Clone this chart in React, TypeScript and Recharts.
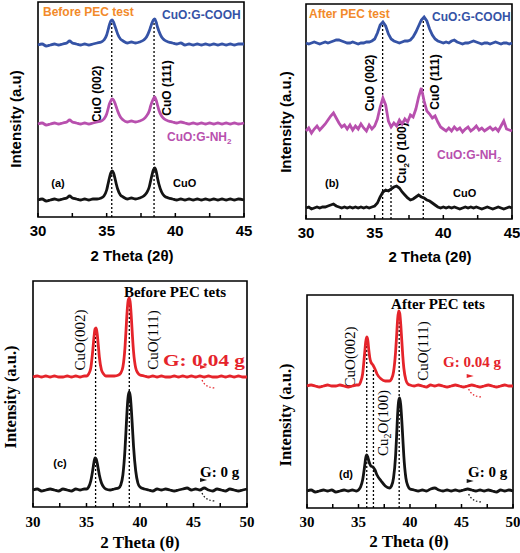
import React from 'react';
import { LineChart, Line, XAxis, YAxis, ReferenceLine, ReferenceArea, ReferenceDot } from 'recharts';

// ---- panels (a) and (b): 2θ 30–45 ----
const thetaA = [30.0, 30.3, 30.6, 30.9, 31.2, 31.5, 31.8, 32.1, 32.3, 32.5, 32.8, 33.1, 33.4, 33.7, 34.0, 34.3, 34.6, 34.8, 35.0, 35.1, 35.2, 35.3, 35.4, 35.5, 35.6, 35.7, 35.8, 36.0, 36.2, 36.5, 36.8, 37.1, 37.4, 37.7, 37.9, 38.1, 38.2, 38.3, 38.4, 38.5, 38.6, 38.7, 38.8, 39.0, 39.2, 39.5, 39.8, 40.1, 40.4, 40.7, 41.0, 41.3, 41.6, 41.9, 42.2, 42.5, 42.8, 43.1, 43.4, 43.7, 44.0, 44.3, 44.6, 45.0];
const aCooh = [172, 173, 171, 172, 173, 172, 173, 174, 176, 174, 173, 172, 173, 172, 173, 174, 175, 177, 182, 187, 192, 196, 197, 195, 191, 187, 183, 178, 176, 174, 175, 174, 175, 177, 180, 186, 190, 194, 197, 198, 195, 190, 186, 180, 177, 175, 174, 173, 174, 172, 173, 172, 173, 172, 173, 172, 173, 172, 173, 172, 173, 172, 173, 173];
const aNh2 = [93, 94, 92, 93, 94, 93, 94, 95, 97, 95, 94, 93, 94, 93, 94, 95, 96, 98, 103, 108, 113, 116, 118, 117, 114, 110, 106, 100, 97, 95, 96, 95, 96, 98, 101, 106, 111, 115, 118, 120, 117, 112, 107, 101, 98, 96, 95, 94, 95, 94, 93, 94, 93, 94, 93, 94, 93, 94, 93, 94, 93, 94, 93, 94];
const aCuo = [17, 18, 16, 17, 18, 17, 18, 19, 21, 19, 18, 17, 18, 17, 18, 18, 19, 21, 27, 33, 39, 44, 46, 44, 39, 33, 28, 22, 20, 18, 19, 18, 19, 21, 24, 30, 36, 42, 47, 49, 46, 39, 33, 25, 21, 19, 18, 17, 18, 17, 18, 17, 18, 17, 18, 17, 18, 17, 18, 17, 18, 17, 18, 17];

const thetaB = [30.0, 30.2, 30.4, 30.6, 30.8, 31.0, 31.2, 31.4, 31.6, 31.8, 32.0, 32.2, 32.4, 32.6, 32.8, 33.0, 33.2, 33.4, 33.6, 33.8, 34.0, 34.2, 34.4, 34.6, 34.8, 35.0, 35.2, 35.4, 35.6, 35.8, 36.0, 36.2, 36.4, 36.6, 36.8, 37.0, 37.2, 37.4, 37.6, 37.8, 38.0, 38.2, 38.4, 38.6, 38.8, 39.0, 39.2, 39.4, 39.6, 39.8, 40.0, 40.2, 40.4, 40.6, 40.8, 41.0, 41.2, 41.4, 41.6, 41.8, 42.0, 42.2, 42.4, 42.6, 42.8, 43.0, 43.2, 43.4, 43.6, 43.8, 44.0, 44.2, 44.4, 44.6, 44.8, 45.0];
const bCooh = [176, 175, 176, 177, 176, 175, 176, 177, 176, 177, 178, 179, 179, 178, 177, 176, 176, 177, 176, 175, 176, 176, 177, 177, 178, 180, 186, 194, 197, 193, 185, 180, 178, 177, 176, 177, 178, 178, 179, 182, 187, 193, 199, 202, 198, 190, 184, 180, 178, 177, 176, 177, 176, 178, 179, 177, 176, 175, 176, 176, 177, 178, 177, 176, 175, 176, 176, 175, 176, 177, 176, 175, 176, 176, 175, 176];
const bNh2 = [88, 91, 86, 90, 93, 89, 92, 95, 99, 103, 106, 101, 96, 92, 94, 90, 94, 89, 93, 90, 95, 91, 88, 94, 90, 93, 100, 112, 121, 114, 98, 92, 96, 93, 99, 95, 100, 97, 104, 102, 110, 122, 131, 118, 108, 105, 101, 103, 97, 92, 90, 88, 91, 88, 92, 89, 91, 87, 90, 92, 88, 90, 93, 89, 91, 88, 90, 92, 89, 91, 88, 93, 98, 90, 89, 88];
const bCuo = [11, 12, 10, 11, 12, 11, 12, 12, 13, 14, 15, 13, 12, 11, 12, 11, 12, 11, 12, 11, 12, 11, 12, 11, 12, 13, 16, 22, 27, 29, 28, 30, 32, 33, 31, 27, 24, 21, 19, 20, 22, 24, 22, 21, 19, 18, 16, 14, 12, 11, 12, 11, 12, 11, 12, 11, 10, 11, 12, 11, 12, 11, 12, 11, 10, 11, 12, 11, 10, 11, 12, 11, 10, 11, 12, 11];

// ---- panels (c) and (d): 2θ 30–50 ----
const thetaC = [30.0, 30.4, 30.8, 31.2, 31.6, 32.0, 32.4, 32.8, 33.2, 33.6, 34.0, 34.4, 34.8, 35.0, 35.2, 35.4, 35.6, 35.7, 35.8, 35.9, 36.0, 36.1, 36.2, 36.4, 36.6, 36.8, 37.2, 37.6, 38.0, 38.2, 38.4, 38.6, 38.7, 38.8, 38.9, 39.0, 39.1, 39.2, 39.3, 39.4, 39.6, 39.8, 40.0, 40.4, 40.8, 41.2, 41.6, 42.0, 42.4, 42.8, 43.2, 43.6, 44.0, 44.4, 44.8, 45.2, 45.6, 46.0, 46.4, 46.8, 47.2, 47.6, 48.0, 48.4, 48.8, 49.2, 49.6, 50.0];
const cG004 = [130, 131, 130, 131, 130, 131, 130, 130, 131, 130, 131, 130, 131, 131, 133, 139, 158, 170, 178, 179, 173, 162, 150, 137, 133, 131, 131, 131, 132, 134, 140, 160, 178, 196, 207, 209, 203, 188, 170, 155, 139, 134, 132, 131, 130, 131, 130, 131, 130, 130, 131, 130, 131, 130, 131, 130, 131, 130, 131, 130, 130, 131, 130, 131, 130, 131, 130, 130];
const cG0 = [17, 18, 16, 17, 18, 17, 16, 18, 17, 16, 18, 17, 18, 18, 20, 26, 38, 45, 49, 48, 44, 38, 32, 24, 20, 18, 17, 18, 19, 22, 32, 58, 78, 98, 111, 115, 110, 96, 78, 60, 36, 24, 20, 18, 17, 16, 18, 17, 18, 17, 16, 17, 18, 19, 17, 18, 17, 19, 17, 16, 18, 17, 16, 18, 17, 16, 17, 18];
const dG004 = [122, 123, 122, 121, 122, 123, 122, 122, 123, 122, 121, 122, 123, 123, 126, 134, 155, 166, 171, 168, 158, 150, 146, 143, 139, 134, 129, 127, 127, 129, 136, 156, 172, 189, 197, 195, 184, 168, 152, 140, 128, 124, 123, 122, 123, 122, 121, 123, 122, 123, 122, 121, 122, 123, 122, 121, 122, 123, 122, 121, 122, 123, 122, 121, 122, 123, 122, 122];
const dG0 = [17, 18, 16, 17, 18, 17, 18, 16, 17, 18, 17, 18, 17, 18, 21, 28, 42, 50, 53, 51, 47, 44, 42, 41, 38, 33, 27, 22, 20, 22, 30, 52, 72, 94, 107, 110, 103, 88, 70, 52, 30, 22, 19, 18, 17, 18, 17, 19, 20, 18, 17, 18, 17, 18, 17, 18, 19, 18, 17, 18, 17, 18, 17, 16, 18, 17, 18, 17];

const ticksAB = [30, 32.5, 35, 37.5, 40, 42.5, 45];
const ticksCD = [30, 32.5, 35, 37.5, 40, 42.5, 45, 47.5, 50];

const SANS = '"Liberation Sans", Arial, sans-serif';
const SERIF = '"Liberation Serif", "Times New Roman", serif';
const BLUE = '#3553a6';
const MAGENTA = '#b850ae';
const ORANGE = '#f28a2a';
const RED = '#e5242b';
const BLACK = '#141414';

const dataA = thetaA.map((t, i) => ({ t, cooh: aCooh[i], nh2: aNh2[i], cuo: aCuo[i] }));
const dataB = thetaB.map((t, i) => ({ t, cooh: bCooh[i], nh2: bNh2[i], cuo: bCuo[i] }));
const dataC = thetaC.map((t, i) => ({ t, g004: cG004[i], g0: cG0[i] }));
const dataD = thetaC.map((t, i) => ({ t, g004: dG004[i], g0: dG0[i] }));

const majorOnly = (v: number) => (v % 5 === 0 ? String(v) : '');

function Txt({ x, y, children, size = 12, color = '#000', weight = 'bold', anchor = 'start', rotate = false, family = SANS, len }: any) {
  return (
    <text
      x={x}
      y={y}
      fill={color}
      fontSize={size}
      fontWeight={weight}
      fontFamily={family}
      textAnchor={anchor}
      dominantBaseline="central"
      transform={rotate ? `rotate(-90 ${x} ${y})` : undefined}
      textLength={len}
      lengthAdjust={len ? 'spacingAndGlyphs' : undefined}
    >
      {children}
    </text>
  );
}

// small arrowhead + dotted arc next to each trace in (c)/(d)
function breakMark(color: string) {
  return (p: any) => (
    <g>
      <polygon points={`${p.cx - 2},${p.cy - 12} ${p.cx + 5},${p.cy - 10} ${p.cx - 2},${p.cy - 8}`} fill={color} />
      <path d={`M${p.cx},${p.cy + 3} Q${p.cx + 3},${p.cy + 11} ${p.cx + 14},${p.cy + 11}`} fill="none" stroke={color} strokeWidth={1.3} strokeDasharray="1.5 2" />
    </g>
  );
}

const dotted = { stroke: '#000', strokeWidth: 1.3, strokeDasharray: '2 2' };
const LW = 2.8;

function PanelA() {
  return (
    <LineChart width={260} height={280} data={dataA} margin={{ top: 2, left: 38, right: 16, bottom: 33 }}>
      <XAxis dataKey="t" type="number" domain={[30, 45]} ticks={ticksAB} interval={0} tickFormatter={majorOnly}
        tickSize={-4} tickMargin={12} axisLine={false} height={30}
        tickLine={{ stroke: '#000', strokeWidth: 1.5 }}
        tick={{ fill: '#000', fontSize: 15, fontWeight: 'bold', fontFamily: SANS }} />
      <YAxis hide type="number" domain={[0, 215]} />
      <ReferenceLine segment={[{ x: 35.37, y: 0 }, { x: 35.37, y: 197 }]} {...dotted} />
      <ReferenceLine segment={[{ x: 38.45, y: 0 }, { x: 38.45, y: 198 }]} {...dotted} />
      <Line type="monotone" dataKey="cooh" stroke={BLUE} strokeWidth={LW} dot={false} isAnimationActive={false} />
      <Line type="monotone" dataKey="nh2" stroke={MAGENTA} strokeWidth={LW} dot={false} isAnimationActive={false} />
      <Line type="monotone" dataKey="cuo" stroke={BLACK} strokeWidth={LW} dot={false} isAnimationActive={false} />
      <ReferenceArea x1={30} x2={45} y1={0} y2={215} fill="none" fillOpacity={0} stroke="#000" strokeWidth={1.6} ifOverflow="visible" />
      <Txt x={43} y={12} color={ORANGE}>Before PEC test</Txt>
      <Txt x={162} y={15} color={BLUE}>CuO:G-COOH</Txt>
      <Txt x={97} y={94} anchor="middle" rotate>CuO (002)</Txt>
      <Txt x={167} y={88} anchor="middle" rotate>CuO (111)</Txt>
      <Txt x={167} y={137} color={MAGENTA}>CuO:G-NH<tspan dy={4} fontSize={8}>2</tspan></Txt>
      <Txt x={58} y={183} anchor="middle" size={11}>(a)</Txt>
      <Txt x={173} y={183} size={11}>CuO</Txt>
      <Txt x={15} y={119} anchor="middle" rotate size={15}>Intensity (a.u)</Txt>
      <Txt x={132} y={255} anchor="middle" size={15}>2 Theta (2θ)</Txt>
    </LineChart>
  );
}

function PanelB() {
  return (
    <LineChart width={260} height={280} data={dataB} margin={{ top: 4, left: 46, right: 8, bottom: 31 }}>
      <XAxis dataKey="t" type="number" domain={[30, 45]} ticks={ticksAB} interval={0} tickFormatter={majorOnly}
        tickSize={-4} tickMargin={12} axisLine={false} height={30}
        tickLine={{ stroke: '#000', strokeWidth: 1.5 }}
        tick={{ fill: '#000', fontSize: 15, fontWeight: 'bold', fontFamily: SANS }} />
      <YAxis hide type="number" domain={[0, 215]} />
      <ReferenceLine segment={[{ x: 35.58, y: 0 }, { x: 35.58, y: 197 }]} {...dotted} />
      <ReferenceLine segment={[{ x: 36.19, y: 0 }, { x: 36.19, y: 86 }]} {...dotted} />
      <ReferenceLine segment={[{ x: 38.54, y: 0 }, { x: 38.54, y: 201 }]} {...dotted} />
      <Line type="linear" dataKey="cooh" stroke={BLUE} strokeWidth={LW} dot={false} isAnimationActive={false} />
      <Line type="linear" dataKey="nh2" stroke={MAGENTA} strokeWidth={LW} dot={false} isAnimationActive={false} />
      <Line type="linear" dataKey="cuo" stroke={BLACK} strokeWidth={LW} dot={false} isAnimationActive={false} />
      <ReferenceArea x1={30} x2={45} y1={0} y2={215} fill="none" fillOpacity={0} stroke="#000" strokeWidth={1.6} ifOverflow="visible" />
      <Txt x={49} y={14} color={ORANGE}>After PEC test</Txt>
      <Txt x={172} y={17} color={BLUE}>CuO:G-COOH</Txt>
      <Txt x={110} y={83} anchor="middle" rotate>CuO (002)</Txt>
      <Txt x={175} y={82} anchor="middle" rotate>CuO (111)</Txt>
      <Txt x={142} y={153} anchor="middle" rotate>Cu<tspan dy={4} fontSize={8}>2</tspan><tspan dy={-4}>O (100)</tspan></Txt>
      <Txt x={177} y={155} color={MAGENTA}>CuO:G-NH<tspan dy={4} fontSize={8}>2</tspan></Txt>
      <Txt x={72} y={183} anchor="middle" size={11}>(b)</Txt>
      <Txt x={193} y={193} size={11}>CuO</Txt>
      <Txt x={25} y={122} anchor="middle" rotate size={15}>Intensity (a.u.)</Txt>
      <Txt x={170} y={256} anchor="middle" size={15}>2 Theta (2θ)</Txt>
    </LineChart>
  );
}

function PanelC() {
  return (
    <LineChart width={260} height={273} data={dataC} margin={{ top: 1, left: 33, right: 13, bottom: 16 }}>
      <XAxis dataKey="t" type="number" domain={[30, 50]} ticks={ticksCD} interval={0} tickFormatter={majorOnly}
        tickSize={-4} tickMargin={13} axisLine={false} height={30}
        tickLine={{ stroke: '#000', strokeWidth: 1.5 }}
        tick={{ fill: '#000', fontSize: 15, fontWeight: 'bold', fontFamily: SERIF }} />
      <YAxis hide type="number" domain={[0, 226]} />
      <ReferenceLine segment={[{ x: 35.85, y: 0 }, { x: 35.85, y: 178 }]} {...dotted} />
      <ReferenceLine segment={[{ x: 39.0, y: 0 }, { x: 39.0, y: 208 }]} {...dotted} />
      <Line type="monotone" dataKey="g004" stroke={RED} strokeWidth={LW} dot={false} isAnimationActive={false} />
      <Line type="monotone" dataKey="g0" stroke={BLACK} strokeWidth={LW} dot={false} isAnimationActive={false} />
      <ReferenceDot x={45.8} y={130} r={0} ifOverflow="visible" shape={breakMark(RED)} />
      <ReferenceDot x={45.8} y={17} r={0} ifOverflow="visible" shape={breakMark(BLACK)} />
      <ReferenceArea x1={30} x2={50} y1={0} y2={226} fill="none" fillOpacity={0} stroke="#000" strokeWidth={1.6} ifOverflow="visible" />
      <Txt x={175} y={12} anchor="middle" size={15} family={SERIF}>Before PEC tets</Txt>
      <Txt x={80} y={60} anchor="middle" rotate size={15} weight="normal" family={SERIF}>CuO(002)</Txt>
      <Txt x={153} y={60} anchor="middle" rotate size={15} weight="normal" family={SERIF}>CuO(111)</Txt>
      <Txt x={163} y={80} size={17} color={RED} family={SERIF} len={82}>G: 0.04 g</Txt>
      <Txt x={200} y={192} size={15} family={SERIF}>G: 0 g</Txt>
      <Txt x={60} y={183} anchor="middle" size={11}>(c)</Txt>
      <Txt x={10} y={117} anchor="middle" rotate size={17} family={SERIF} len={103}>Intensity (a.u.)</Txt>
      <Txt x={140} y={262} anchor="middle" size={17} family={SERIF}>2 Theta (θ)</Txt>
    </LineChart>
  );
}

function PanelD() {
  return (
    <LineChart width={260} height={273} data={dataD} margin={{ top: 15, left: 47, right: 7, bottom: 15 }}>
      <XAxis dataKey="t" type="number" domain={[30, 50]} ticks={ticksCD} interval={0} tickFormatter={majorOnly}
        tickSize={-4} tickMargin={12} axisLine={false} height={30}
        tickLine={{ stroke: '#000', strokeWidth: 1.5 }}
        tick={{ fill: '#000', fontSize: 15, fontWeight: 'bold', fontFamily: SERIF }} />
      <YAxis hide type="number" domain={[0, 213]} />
      <ReferenceLine segment={[{ x: 35.8, y: 0 }, { x: 35.8, y: 170 }]} {...dotted} />
      <ReferenceLine segment={[{ x: 36.45, y: 0 }, { x: 36.45, y: 138 }]} {...dotted} />
      <ReferenceLine segment={[{ x: 38.95, y: 0 }, { x: 38.95, y: 196 }]} {...dotted} />
      <Line type="monotone" dataKey="g004" stroke={RED} strokeWidth={LW} dot={false} isAnimationActive={false} />
      <Line type="monotone" dataKey="g0" stroke={BLACK} strokeWidth={LW} dot={false} isAnimationActive={false} />
      <ReferenceDot x={45.7} y={122} r={0} ifOverflow="visible" shape={breakMark(RED)} />
      <ReferenceDot x={45.7} y={17} r={0} ifOverflow="visible" shape={breakMark(BLACK)} />
      <ReferenceArea x1={30} x2={50} y1={0} y2={213} fill="none" fillOpacity={0} stroke="#000" strokeWidth={1.6} ifOverflow="visible" />
      <Txt x={178} y={24} anchor="middle" size={15} family={SERIF}>After PEC tets</Txt>
      <Txt x={90} y={77} anchor="middle" rotate size={15} weight="normal" family={SERIF}>CuO(002)</Txt>
      <Txt x={123} y={143} anchor="middle" rotate size={15} weight="normal" family={SERIF}>Cu<tspan dy={4} fontSize={10}>2</tspan><tspan dy={-4}>O(100)</tspan></Txt>
      <Txt x={163} y={71} anchor="middle" rotate size={15} weight="normal" family={SERIF}>CuO(111)</Txt>
      <Txt x={183} y={82} size={15} color={RED} family={SERIF}>G: 0.04 g</Txt>
      <Txt x={208} y={192} size={15} family={SERIF}>G: 0 g</Txt>
      <Txt x={86} y={194} anchor="middle" size={11}>(d)</Txt>
      <Txt x={25} y={135} anchor="middle" rotate size={17} family={SERIF} len={103}>Intensity (a.u.)</Txt>
      <Txt x={149} y={261} anchor="middle" size={17} family={SERIF}>2 Theta (θ)</Txt>
    </LineChart>
  );
}

export default function App() {
  return (
    <div style={{ position: 'absolute', left: 0, top: 0, width: 520, height: 553, background: '#fff' }}>
      <div style={{ position: 'absolute', left: 0, top: 0 }}><PanelA /></div>
      <div style={{ position: 'absolute', left: 260, top: 0 }}><PanelB /></div>
      <div style={{ position: 'absolute', left: 0, top: 280 }}><PanelC /></div>
      <div style={{ position: 'absolute', left: 260, top: 280 }}><PanelD /></div>
    </div>
  );
}
